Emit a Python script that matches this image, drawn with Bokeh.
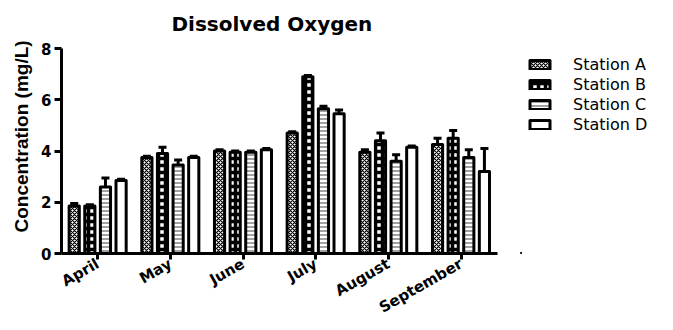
from bokeh.embed import file_html
from bokeh.resources import INLINE
from bokeh.layouts import row
from bokeh.plotting import figure
from bokeh.models import (ColumnDataSource, FactorRange, Range1d, Whisker, TeeHead,
                          Legend, LegendItem, FixedTicker, Title)
from bokeh.transform import dodge

months = ["April", "May", "June", "July", "August", "September"]
stations = ["Station A", "Station B", "Station C", "Station D"]

station_a = [1.85, 3.75, 4.0, 4.7, 3.95, 4.25]
station_a_err = [0.1, 0.05, 0.05, 0.05, 0.1, 0.25]
station_b = [1.85, 3.9, 3.95, 6.9, 4.4, 4.5]
station_b_err = [0.05, 0.25, 0.05, 0.05, 0.3, 0.3]
station_c = [2.6, 3.45, 3.95, 5.65, 3.6, 3.75]
station_c_err = [0.35, 0.2, 0.05, 0.1, 0.25, 0.3]
station_d = [2.85, 3.75, 4.05, 5.45, 4.15, 3.2]
station_d_err = [0.05, 0.05, 0.05, 0.15, 0.05, 0.9]

y_ticks = [0, 2, 4, 6, 8]

FONT = "DejaVu Sans"
NARROW = "Liberation Sans"

styles = [
    dict(hatch_pattern="diagonal_cross", hatch_scale=4, hatch_weight=1.2, hatch_color="black"),
    dict(hatch_pattern="cross", hatch_scale=7, hatch_weight=3.5, hatch_color="black"),
    dict(hatch_pattern="horizontal_line", hatch_scale=4, hatch_weight=1.6, hatch_color="#8a8a8a"),
    dict(hatch_pattern="blank"),
]
bar_line = dict(fill_color="white", line_color="black", line_width=3, line_join="round")

p = figure(
    width=520, height=330,
    x_range=FactorRange(*months, range_padding=0),
    y_range=Range1d(0, 8),
    output_backend="svg", toolbar_location=None,
    min_border_left=61, min_border_right=23, min_border_top=48, min_border_bottom=77,
)
p.outline_line_color = None
p.xgrid.visible = False
p.ygrid.visible = False

main_title = Title(text="Dissolved Oxygen", align="left", offset=110,
                   vertical_align="top", text_font=FONT, text_font_size="20px",
                   text_font_style="bold", text_color="black", standoff=21)
p.add_layout(main_title, "above")

src = ColumnDataSource(dict(
    month=months,
    a=station_a, b=station_b, c=station_c, d=station_d,
    a_hi=[v + e for v, e in zip(station_a, station_a_err)],
    b_hi=[v + e for v, e in zip(station_b, station_b_err)],
    c_hi=[v + e for v, e in zip(station_c, station_c_err)],
    d_hi=[v + e for v, e in zip(station_d, station_d_err)],
))

offsets = [-0.325, -0.11, 0.105, 0.32]
cols = ["a", "b", "c", "d"]

for col, off, st in zip(cols, offsets, styles):
    x = dodge("month", off, range=p.x_range)
    # upper-only error bar
    w = Whisker(source=src, base=x, lower=col, upper=col + "_hi", dimension="height",
                line_color="black", line_width=3,
                upper_head=TeeHead(size=8, line_width=3, line_color="black"),
                lower_head=None)
    p.add_layout(w)
    p.vbar(x=x, top=col, width=0.14, source=src, **bar_line, **st)

for ax in (p.xaxis[0], p.yaxis[0]):
    ax.axis_line_width = 3
    ax.axis_line_color = "black"
    ax.major_tick_line_width = 3
    ax.major_tick_line_color = "black"
    ax.minor_tick_line_color = None
    ax.major_label_text_font = FONT
    ax.major_label_text_font_style = "bold"
    ax.major_label_text_color = "black"

p.yaxis.ticker = FixedTicker(ticks=y_ticks)
p.yaxis.major_tick_in = 0
p.yaxis.major_tick_out = 7
p.yaxis.major_label_text_font_size = "15px"
p.yaxis.major_label_standoff = 3

# y-axis title, started a little above the x axis
ytitle = Title(text="Concentration (mg/L)", align="left", offset=21,
               text_font=NARROW, text_font_style="bold", text_font_size="19px",
               text_color="black", standoff=13)
p.add_layout(ytitle, "left")

p.xaxis.major_tick_in = 0
p.xaxis.major_tick_out = 6
p.xaxis.major_label_orientation = 0.52
p.xaxis.major_label_text_font_size = "15px"
p.xaxis.major_label_standoff = 3

# legend panel to the right of the chart; its proxy bars sit outside the view
lg = figure(width=153, height=330, output_backend="svg", toolbar_location=None,
            x_axis_location=None, y_axis_location=None,
            x_range=Range1d(0, 1), y_range=Range1d(0, 1),
            min_border_left=0, min_border_right=0, min_border_top=33,
            min_border_bottom=0, outline_line_color=None)
lg.xgrid.visible = False
lg.ygrid.visible = False
items = []
for st, name in zip(styles, stations):
    r = lg.vbar(x=[-1.0], top=[-1.0], width=0.1, **bar_line, **st)
    items.append(LegendItem(label=name, renderers=[r]))

legend = Legend(items=items, location="top_left", border_line_color=None,
                background_fill_alpha=0, glyph_width=25, glyph_height=11,
                label_text_font=FONT, label_text_font_size="16px",
                label_text_color="black",
                label_height=18, spacing=1, padding=0, margin=7, label_standoff=21)
lg.add_layout(legend, "center")

open("out.html", "w").write(file_html(row(p, lg, spacing=0), INLINE))
